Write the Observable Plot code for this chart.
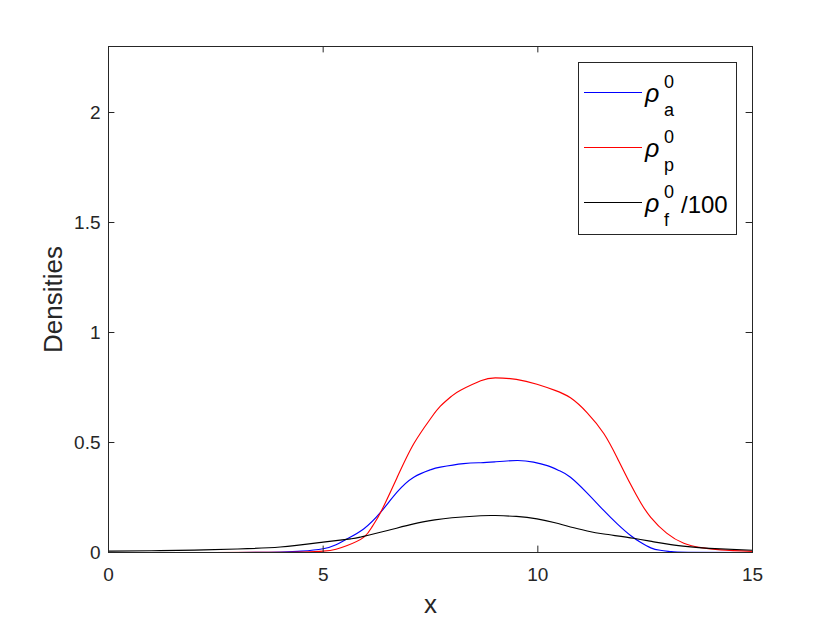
<!DOCTYPE html>
<html><head><meta charset="utf-8">
<script src="https://cdn.jsdelivr.net/npm/d3@7"></script>
<script src="https://cdn.jsdelivr.net/npm/@observablehq/plot@0.6"></script>
<style>body{margin:0;background:#fff} #chart{width:830px;height:623px}</style>
</head><body><div id="chart"></div>
<script>
// ---- data ----
const xTicks = [0, 5, 10, 15];
const xTickLabels = ["0", "5", "10", "15"];
const yTicks = [0, 0.5, 1, 1.5, 2];
const yTickLabels = ["0", "0.5", "1", "1.5", "2"];
const xDomain = [0, 15];
const yDomain = [0, 2.3];
const xLabel = "x";
const yLabel = "Densities";

const seriesKeys = ["a", "p", "f"];
const seriesSubs = ["a", "p", "f"];
const seriesSuffix = ["", "", "/100"];
const seriesColors = ["#0000ff", "#ff0000", "#000000"];

const rhoA_x = [0, 3, 4, 4.5, 5, 5.3, 5.56, 5.95, 6.34, 6.72, 7.11, 7.5, 7.73, 8.27, 8.67, 9.0, 9.52, 9.9, 10.22, 10.5, 10.76, 11.15, 11.54, 11.85, 12.16, 12.4, 12.63, 12.85, 13.1, 13.5, 15];
const rhoA_y = [0, 0, 0.002, 0.006, 0.017, 0.035, 0.062, 0.108, 0.183, 0.274, 0.342, 0.376, 0.388, 0.404, 0.408, 0.412, 0.418, 0.411, 0.395, 0.372, 0.342, 0.27, 0.19, 0.13, 0.077, 0.045, 0.021, 0.01, 0.004, 0.001, 0];

const rhoP_x = [0, 2, 4, 4.5, 5, 5.3, 5.56, 5.95, 6.15, 6.34, 6.72, 7.11, 7.5, 7.73, 8.0, 8.2, 8.67, 9.01, 9.5, 9.98, 10.4, 10.76, 11.15, 11.54, 11.85, 12.16, 12.4, 12.63, 13.0, 13.4, 13.8, 14.26, 15];
const rhoP_y = [0, 0, 0.001, 0.002, 0.006, 0.015, 0.032, 0.07, 0.12, 0.183, 0.34, 0.494, 0.608, 0.665, 0.712, 0.738, 0.781, 0.794, 0.787, 0.765, 0.737, 0.703, 0.635, 0.54, 0.43, 0.31, 0.225, 0.16, 0.088, 0.042, 0.022, 0.012, 0.005];

const rhoF_x = [0, 1, 2, 3, 4, 5, 5.64, 5.87, 6.5, 7.11, 7.6, 8, 8.67, 9.01, 9.5, 9.98, 10.4, 10.76, 11.15, 11.54, 12.23, 12.7, 13.1, 13.5, 14, 15];
const rhoF_y = [0.006, 0.008, 0.011, 0.016, 0.025, 0.047, 0.062, 0.07, 0.1, 0.13, 0.148, 0.158, 0.167, 0.168, 0.164, 0.153, 0.135, 0.116, 0.098, 0.084, 0.065, 0.048, 0.036, 0.027, 0.019, 0.01];

// ---- build tables ----
const toRows = (xs, ys) => xs.map((x, i) => ({x, y: ys[i]}));
const series = [toRows(rhoA_x, rhoA_y), toRows(rhoP_x, rhoP_y), toRows(rhoF_x, rhoF_y)];

const axisColor = "#262626";
const tlY = 6.4 / 220;      // inward tick length in y units
const tlX = 6.4 / 42.93;    // inward tick length in x units

const svg = Plot.plot({
  width: 830, height: 623,
  marginLeft: 108, marginRight: 78, marginTop: 46, marginBottom: 71,
  x: {domain: xDomain},
  y: {domain: yDomain},
  style: {fontFamily: "'Liberation Sans', Arial, Helvetica, sans-serif", fontSize: "19px", color: axisColor, background: "#fff"},
  marks: [
    ...series.map((rows, i) => Plot.line(rows, {x: "x", y: "y", stroke: seriesColors[i], strokeWidth: 1.15, curve: "natural"})),
    Plot.frame({stroke: axisColor, strokeWidth: 1}),
    Plot.ruleX(xTicks, {x: d => d, y1: yDomain[0], y2: yDomain[0] + tlY, stroke: axisColor}),
    Plot.ruleX(xTicks, {x: d => d, y1: yDomain[1] - tlY, y2: yDomain[1], stroke: axisColor}),
    Plot.ruleY(yTicks, {y: d => d, x1: xDomain[0], x2: xDomain[0] + tlX, stroke: axisColor}),
    Plot.ruleY(yTicks, {y: d => d, x1: xDomain[1] - tlX, x2: xDomain[1], stroke: axisColor}),
    Plot.axisX(xTicks, {tickSize: 0, tickPadding: 15, label: null, tickFormat: d => xTickLabels[xTicks.indexOf(d)], fill: axisColor}),
    Plot.axisY(yTicks, {tickSize: 0, tickPadding: 8, label: null, tickFormat: d => yTickLabels[yTicks.indexOf(d)], fill: axisColor}),
    Plot.text([xLabel], {text: d => d, frameAnchor: "bottom", dy: 60, fontSize: 26, fill: axisColor, textAnchor: "middle"}),
    Plot.text([yLabel], {text: d => d, frameAnchor: "left", rotate: -90, dx: -55, fontSize: 26, fill: axisColor, textAnchor: "middle"})
  ]
});
document.getElementById("chart").appendChild(svg);

// ---- legend (drawn into the same SVG) ----
const g = d3.select(svg).append("g")
  .attr("font-family", "'Liberation Sans', Arial, Helvetica, sans-serif")
  .attr("text-anchor", "start").attr("fill", "#000");
g.append("rect").attr("x", 578.5).attr("y", 62.5).attr("width", 158).attr("height", 172)
  .attr("fill", "#fff").attr("stroke", axisColor).attr("stroke-width", 1);
const rowY = [92.5, 147.5, 202.5];
seriesKeys.forEach((k, i) => {
  const L = rowY[i];
  g.append("line").attr("x1", 584).attr("x2", 642).attr("y1", L).attr("y2", L)
    .attr("stroke", seriesColors[i]).attr("stroke-width", 1.2).attr("fill", "none");
  g.append("text").attr("x", 645).attr("y", L + 9).attr("font-size", 25).attr("font-style", "italic").text("ρ");
  g.append("text").attr("x", 664).attr("y", L - 5).attr("font-size", 18).text("0");
  g.append("text").attr("x", 664).attr("y", L + 23).attr("font-size", 18).text(seriesSubs[i]);
  if (seriesSuffix[i]) g.append("text").attr("x", 681).attr("y", L + 10).attr("font-size", 24).text(seriesSuffix[i]);
});
</script>
</body></html>
